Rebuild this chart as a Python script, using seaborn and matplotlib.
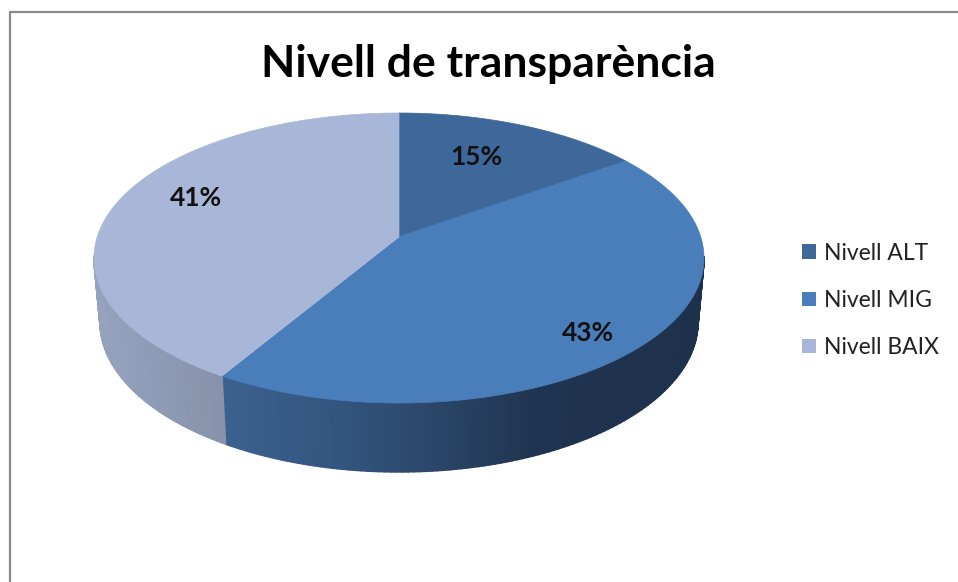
import numpy as np
import matplotlib
matplotlib.use('Agg')
import matplotlib.pyplot as plt
from matplotlib.collections import PolyCollection
from matplotlib.colors import to_rgb
from matplotlib.lines import Line2D
from matplotlib.patches import Patch, Polygon
import seaborn as sns

# data
labels = ['Nivell ALT', 'Nivell MIG', 'Nivell BAIX']
values = [15, 43, 41]
title = 'Nivell de transparència'

colors = ['#3d6899', '#4a7ebb', '#a8b7d7']
# side wall colour ramps: x position on the pie -> colour
side_ramps = {
    0: ([-1, 1], ['#2c4d73', '#2c4d73']),
    1: ([-0.59, -0.2, 0.15, 0.46, 1], ['#3c6290', '#33557f', '#2a4566', '#1f3450', '#1e314c']),
    2: ([-1, -0.59], ['#95a3bf', '#8793ab']),
}

sns.set_theme(style='white')
plt.rcParams['font.family'] = ['Lato', 'DejaVu Sans']

W, H = 958, 582
fig = plt.figure(figsize=(W / 100, H / 100), dpi=100, facecolor='white')
ax = fig.add_axes([94 / W, (H - 403) / H, 610 / W, 290 / H])

wedges, _, autotexts = ax.pie(values, startangle=90, counterclock=False, colors=colors,
                              autopct='%.0f%%', radius=1)
ax.set_aspect('auto')
ax.set_xlim(-1, 1)
ax.set_ylim(-1, 1)

# perspective: the circle stays an ellipse but the apex moves up
K = 0.145
def tilt(theta):
    t = np.radians(theta)
    x, y = np.cos(t), np.sin(t)
    d = 1 + K * y
    return x * np.sqrt(1 - K ** 2) / d, (y + K) / d

# bottom rim of the wall, a bit narrower and lower
def lower(x, y):
    return x * 0.98, y * 1.034 - 0.441

for i, w in enumerate(wedges):
    th = np.linspace(w.theta1, w.theta2, 160)
    x, y = tilt(th)
    # side wall
    bx, by = lower(x, y)
    polys, cols = [], []
    stops, ramp = side_ramps[i]
    rgb = np.array([to_rgb(c) for c in ramp])
    for j in range(len(th) - 1):
        if y[j] > 0 and y[j + 1] > 0:
            continue
        polys.append([(x[j], y[j]), (x[j + 1], y[j + 1]), (bx[j + 1], by[j + 1]), (bx[j], by[j])])
        xm = (x[j] + x[j + 1]) / 2
        cols.append([np.interp(xm, stops, rgb[:, c]) for c in range(3)])
    if polys:
        ax.add_collection(PolyCollection(polys, facecolors=cols, edgecolors=cols, linewidths=1.2,
                                         zorder=1, clip_on=False))
    # top face
    w.set_visible(False)
    pts = np.column_stack([np.r_[0, x], np.r_[K, y]])
    ax.add_patch(Polygon(pts, closed=True, facecolor=colors[i], edgecolor=colors[i], linewidth=0.5,
                         zorder=2, clip_on=False))

label_pos = [(0.255, 0.695), (0.62, -0.515), (-0.665, 0.415)]
for txt, p in zip(autotexts, label_pos):
    txt.set_position(p)
    txt.set(fontsize=19, fontweight='bold', color='#111111', ha='center', va='center', zorder=5)

fig.text(488 / W, 1 - 64 / H, title, ha='center', va='center', fontsize=32, fontweight='bold', color='black')

handles = [Patch(facecolor=c, edgecolor='none') for c in colors]
fig.legend(handles, labels, loc='center left', bbox_to_anchor=(802 / W, 1 - 300.5 / H), frameon=False,
           fontsize=16.5, labelspacing=1.14, handlelength=0.62, handleheight=0.62, handletextpad=0.36,
           labelcolor='#222222', borderpad=0, borderaxespad=0)

# outer frame, only top and left show
fig.add_artist(Line2D([10 / W, 10 / W], [0, 1 - 12 / H], color='#8a8a8a', lw=1.6))
fig.add_artist(Line2D([10 / W, 1], [1 - 12 / H, 1 - 12 / H], color='#8a8a8a', lw=1.6))

fig.savefig('out.png', dpi=100)
